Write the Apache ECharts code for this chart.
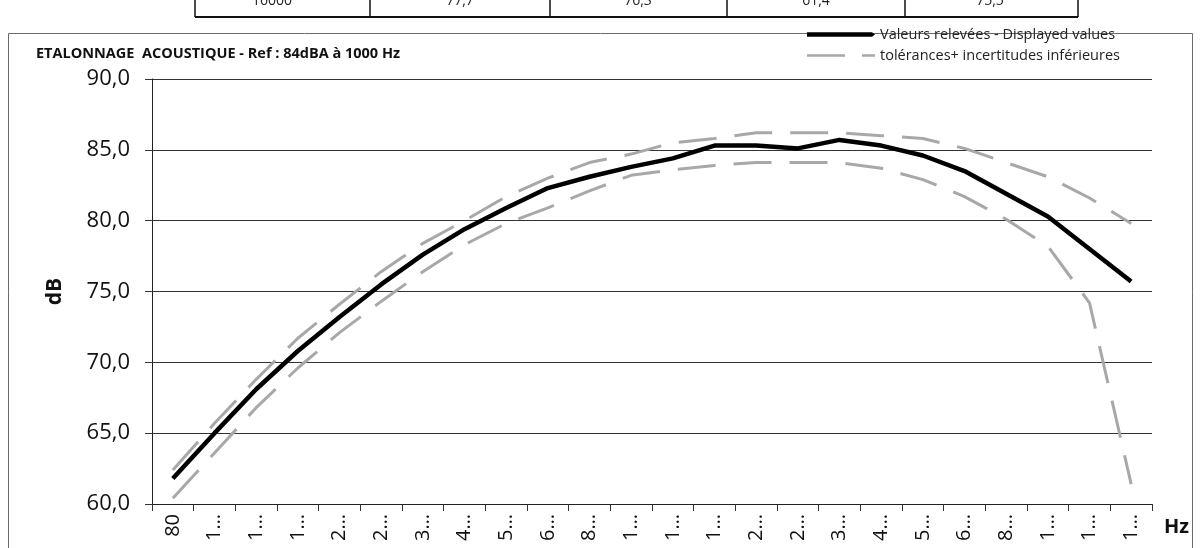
<!DOCTYPE html>
<html>
<head>
<meta charset="utf-8">
<script src="https://cdn.jsdelivr.net/npm/echarts@6/dist/echarts.min.js"></script>
<style>
html,body{margin:0;padding:0;background:#fff;}
#chart{width:1203px;height:548px;}
</style>
</head>
<body>
<div id="chart"></div>
<script>
var categories = ['80','100','125','160','200','250','315','400','500','630','800','1000','1250','1600','2000','2500','3150','4000','5000','6300','8000','10000','12500','16000'];
var displayed = [61.8, 65.0, 68.1, 70.8, 73.2, 75.5, 77.6, 79.4, 80.9, 82.3, 83.1, 83.8, 84.4, 85.3, 85.3, 85.1, 85.7, 85.3, 84.6, 83.5, 81.9, 80.3, 78.0, 75.7];
var upperTol = [62.4, 65.7, 68.8, 71.7, 74.1, 76.4, 78.4, 80.0, 81.7, 83.0, 84.1, 84.7, 85.5, 85.8, 86.2, 86.2, 86.2, 86.0, 85.8, 85.1, 84.1, 83.1, 81.6, 79.8];
var lowerTol = [60.4, 63.6, 66.8, 69.6, 72.1, 74.3, 76.4, 78.3, 79.8, 80.9, 82.1, 83.2, 83.6, 83.9, 84.1, 84.1, 84.1, 83.7, 82.9, 81.7, 80.1, 78.2, 74.2, 61.4];
var tableRow = ['16000', '77,7', '76,3', '61,4', '75,5'];
var tableCellCenters = [272, 460, 638, 816, 990];
var tableLinesX = [195, 370, 550, 727, 905, 1078];

var FONT = "'Open Sans', 'Liberation Sans', sans-serif";
var nameMain = 'Valeurs relevées - Displayed values';
var nameTol = 'tolérances+ incertitudes inférieures';

var graphics = [];
graphics.push({type:'rect', shape:{x:8.5, y:33.5, width:1184, height:530}, style:{fill:'none', stroke:'#6a6a6a', lineWidth:1}, silent:true});
graphics.push({type:'line', shape:{x1:tableLinesX[0], y1:17, x2:tableLinesX[tableLinesX.length-1], y2:17}, style:{stroke:'#111', lineWidth:2}, silent:true});
tableLinesX.forEach(function(x){
  graphics.push({type:'line', shape:{x1:x, y1:0, x2:x, y2:17}, style:{stroke:'#111', lineWidth:1.5}, silent:true});
});
tableRow.forEach(function(t, i){
  graphics.push({type:'text', x:tableCellCenters[i], y:1, style:{text:t, fontSize:14, fontFamily:FONT, fill:'#222', align:'center', verticalAlign:'middle'}, silent:true});
});
graphics.push({type:'text', x:1164, y:527, style:{text:'Hz', fontSize:20, fontWeight:'bold', fontFamily:FONT, fill:'#111', align:'left', verticalAlign:'middle'}, silent:true});

var chart = echarts.init(document.getElementById('chart'));
chart.setOption({
  animation:false,
  backgroundColor:'#fff',
  title:{
    text:'ETALONNAGE  ACOUSTIQUE - Ref : 84dBA à 1000 Hz',
    left:31, top:41,
    textStyle:{fontSize:14.5, fontWeight:'bold', fontFamily:FONT, color:'#111'}
  },
  legend:{
    orient:'vertical',
    left:802, top:22,
    itemWidth:68, itemHeight:14, itemGap:6,
    textStyle:{fontSize:14.5, fontFamily:FONT, color:'#222'},
    data:[
      {name:nameMain, icon:'path://M0,0M68,14M0,4.8L65,4.8L68,7L65,9.2L0,9.2Z', itemStyle:{color:'#000'}},
      {name:nameTol, icon:'path://M0,0M68,14M0,5.7h38v2.6h-38zM55,5.7h13v2.6h-13z', itemStyle:{color:'#a8a8a8'}}
    ]
  },
  graphic:graphics,
  grid:{left:152, right:51, top:79, bottom:44, containLabel:false},
  xAxis:{
    type:'category',
    data:categories,
    boundaryGap:true,
    axisLine:{lineStyle:{color:'#222', width:1}},
    axisTick:{show:true, alignWithLabel:false, length:7, lineStyle:{color:'#333'}},
    axisLabel:{
      rotate:90, fontSize:20, fontFamily:FONT, color:'#111', margin:10, interval:0,
      formatter:function(v){ return v.length > 2 ? v.charAt(0) + '…' : v; }
    }
  },
  yAxis:{
    type:'value', min:60, max:90, interval:5,
    name:'dB', nameLocation:'middle', nameGap:86, nameRotate:90,
    nameTextStyle:{fontSize:21, fontWeight:'bold', fontFamily:FONT, color:'#111'},
    axisLine:{show:true, lineStyle:{color:'#222', width:1}},
    axisTick:{show:true, length:7, lineStyle:{color:'#333'}},
    splitLine:{show:true, lineStyle:{color:'#333', width:1}},
    axisLabel:{fontSize:22, fontFamily:FONT, color:'#111', margin:22,
      formatter:function(v){ return v.toFixed(1).replace('.', ','); }}
  },
  series:[
    {name:nameTol, type:'line', data:upperTol, symbol:'none', smooth:false,
     lineStyle:{color:'#a8a8a8', width:3, type:[38,18]}, itemStyle:{color:'#a8a8a8'}, z:2},
    {name:nameTol, type:'line', data:lowerTol, symbol:'none', smooth:false,
     lineStyle:{color:'#a8a8a8', width:3, type:[38,18]}, itemStyle:{color:'#a8a8a8'}, z:2},
    {name:nameMain, type:'line', data:displayed, symbol:'none', smooth:false,
     lineStyle:{color:'#000', width:4.5}, itemStyle:{color:'#000'}, z:3}
  ]
});
</script>
</body>
</html>
